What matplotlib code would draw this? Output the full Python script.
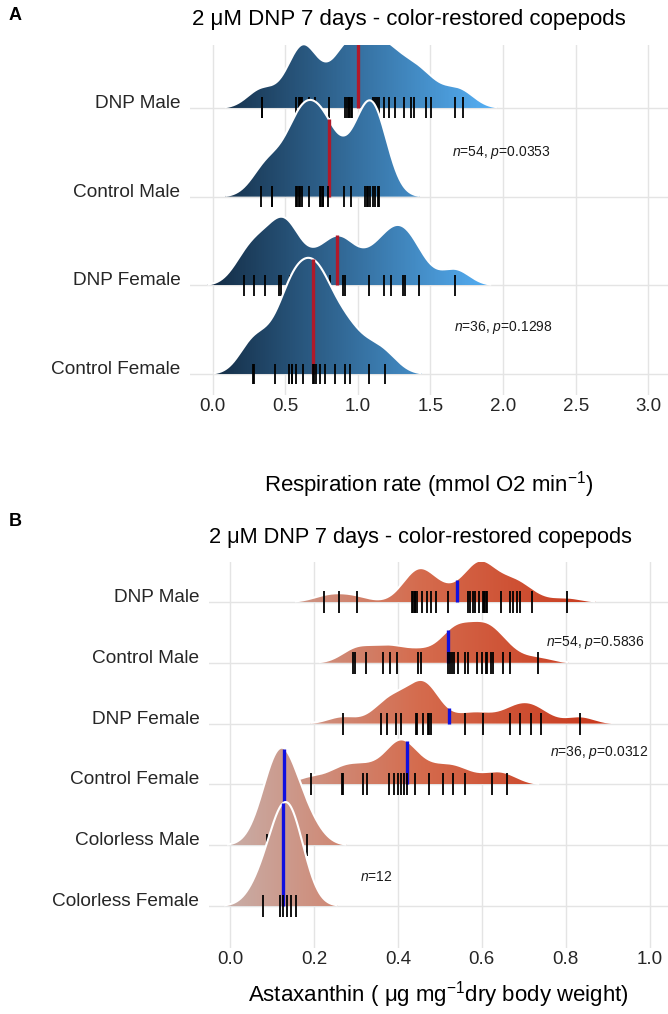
import numpy as np
import matplotlib
matplotlib.use("Agg")
import matplotlib.pyplot as plt
from matplotlib.patches import Polygon
from matplotlib.colors import LinearSegmentedColormap, Normalize

plt.rcParams['font.family'] = ['Liberation Sans', 'DejaVu Sans']
plt.rcParams['mathtext.fontset'] = 'custom'
plt.rcParams['mathtext.rm'] = 'Liberation Sans'
plt.rcParams['mathtext.it'] = 'Liberation Sans:italic'
plt.rcParams['mathtext.bf'] = 'Liberation Sans:bold'

# ---------------- Panel A: respiration rate ----------------
resp_labels = ["Control Female", "DNP Female", "Control Male", "DNP Male"]  # bottom -> top
resp_dnp_male = [0.339, 0.34, 0.576, 0.592, 0.603, 0.61, 0.619, 0.661, 0.702, 0.803,
                 0.914, 0.928, 0.94, 0.941, 0.955, 0.960, 1.102, 1.121, 1.134, 1.148,
                 1.181, 1.213, 1.259, 1.316, 1.369, 1.385, 1.466, 1.507, 1.668, 1.723]
resp_ctrl_male = [0.334, 0.408, 0.41, 0.576, 0.58, 0.597, 0.60, 0.615, 0.661, 0.741,
                  0.745, 0.757, 0.76, 0.794, 0.902, 0.955, 1.052, 1.06, 1.070, 1.086,
                  1.102, 1.116, 1.139, 1.148]
resp_dnp_female = [0.219, 0.286, 0.36, 0.457, 0.471, 0.53, 0.55, 0.72, 0.81, 0.90,
                   0.912, 1.074, 1.18, 1.23, 1.31, 1.325, 1.42, 1.67]
resp_ctrl_female = [0.282, 0.285, 0.431, 0.523, 0.546, 0.55, 0.574, 0.626, 0.695, 0.70,
                    0.712, 0.737, 0.776, 0.845, 0.909, 0.948, 1.075, 1.190]
resp_ticks = [0.0, 0.5, 1.0, 1.5, 2.0, 2.5, 3.0]
resp_notes = [(1.65, 2.50, "$n$=54, $p$=0.0353"), (1.66, 0.52, "$n$=36, $p$=0.1298")]

# ---------------- Panel B: astaxanthin ----------------
asta_labels = ["Colorless Female", "Colorless Male", "Control Female", "DNP Female",
               "Control Male", "DNP Male"]  # bottom -> top
asta_dnp_male = [0.224, 0.260, 0.302, 0.433, 0.437, 0.44, 0.441, 0.446, 0.457, 0.469,
                 0.478, 0.492, 0.520, 0.566, 0.572, 0.578, 0.584, 0.594, 0.602, 0.605,
                 0.606, 0.610, 0.613, 0.646, 0.667, 0.674, 0.683, 0.692, 0.720, 0.802]
asta_ctrl_male = [0.294, 0.298, 0.324, 0.365, 0.380, 0.397, 0.449, 0.454, 0.520, 0.524,
                  0.528, 0.534, 0.544, 0.560, 0.568, 0.588, 0.600, 0.610, 0.613, 0.621,
                  0.627, 0.650, 0.667, 0.735]
asta_dnp_female = [0.268, 0.359, 0.375, 0.395, 0.407, 0.443, 0.446, 0.461, 0.471, 0.475,
                   0.478, 0.560, 0.604, 0.667, 0.690, 0.717, 0.740, 0.834]
asta_ctrl_female = [0.192, 0.266, 0.268, 0.316, 0.327, 0.378, 0.390, 0.400, 0.408, 0.415,
                    0.422, 0.441, 0.475, 0.508, 0.532, 0.560, 0.624, 0.659]
asta_colorless_male = [0.088, 0.11, 0.12, 0.13, 0.142, 0.184]
asta_colorless_female = [0.079, 0.118, 0.126, 0.136, 0.146, 0.158]
asta_ticks = [0.0, 0.2, 0.4, 0.6, 0.8, 1.0]
asta_notes = [(0.754, 4.34, "$n$=54, $p$=0.5836"), (0.763, 2.52, "$n$=36, $p$=0.0312"),
              (0.31, 0.48, "$n$=12")]

title = "2 \u03bcM DNP 7 days - color-restored copepods"

W, H = 668, 1014
fig = plt.figure(figsize=(W / 100, H / 100), dpi=100)
fig.patch.set_facecolor("white")


def px_axes(left, top, right, bottom):
    return fig.add_axes([left / W, 1 - bottom / H, (right - left) / W, (bottom - top) / H])


def kde(values, grid, bw):
    v = np.asarray(values, dtype=float)[:, None]
    z = (grid[None, :] - v) / bw
    return np.exp(-0.5 * z ** 2).sum(0) / (len(values) * bw * np.sqrt(2 * np.pi))


def ridges(ax, series, bw, scale, cmap, mean_color, tick_half, rel_min=0.006):
    curves = []
    for vals in series:
        g = np.linspace(min(vals) - 3 * bw, max(vals) + 3 * bw, 800)
        curves.append((g, kde(vals, g, bw)))
    dmax = max(d.max() for _, d in curves)
    # drop the flat tails that sit on the baseline
    trimmed = []
    for g, d in curves:
        keep = np.where(d >= rel_min * dmax)[0]
        sl = slice(keep[0], keep[-1] + 1)
        trimmed.append((g[sl], d[sl]))
    norm = Normalize(min(g[0] for g, _ in trimmed), max(g[-1] for g, _ in trimmed))
    n = len(series)
    for i in range(n - 1, -1, -1):
        vals = series[i]
        g, d = trimmed[i]
        h = d / dmax * scale
        z = 2 + (n - 1 - i) * 5
        verts = np.column_stack([np.r_[g, g[-1], g[0]], np.r_[i + h, i, i]])
        poly = Polygon(verts, closed=True, facecolor="none", edgecolor="none", zorder=z)
        ax.add_patch(poly)
        grad = np.linspace(g[0], g[-1], 300)[None, :]
        im = ax.imshow(grad, extent=[g[0], g[-1], i, i + h.max()], origin="lower",
                       aspect="auto", cmap=cmap, norm=norm, zorder=z, interpolation="bilinear")
        im.set_clip_path(poly)
        ax.plot(g, i + h, color="white", lw=1.5, zorder=z + 1, solid_capstyle="butt")
        m = float(np.mean(vals))
        hm = float(np.interp(m, g, h))
        ax.plot([m, m], [i, i + hm], color=mean_color, lw=2.4, zorder=z + 2,
                solid_capstyle="butt")
        ax.vlines(vals, i - tick_half, i + tick_half, color="black", lw=1.3, zorder=z + 3)


def style(ax, labels, ticks, xlim, ylim):
    ax.set_xlim(*xlim)
    ax.set_ylim(*ylim)
    ax.set_xticks(ticks)
    ax.set_xticklabels([f"{t:.1f}" for t in ticks])
    ax.set_yticks(range(len(labels)))
    ax.set_yticklabels(labels)
    for lbl in ax.get_yticklabels():
        lbl.set_va("baseline")
    for s in ax.spines.values():
        s.set_visible(False)
    ax.grid(True, color="#e4e4e4", lw=1.0)
    ax.set_axisbelow(True)
    ax.tick_params(length=0, labelcolor="#262626")
    ax.tick_params(axis="x", labelsize=13.5, pad=2.5)
    ax.tick_params(axis="y", labelsize=13.7, pad=7)
    ax.set_facecolor("white")


blues = LinearSegmentedColormap.from_list("blues", ["#132B43", "#56B1F7"])
reds = LinearSegmentedColormap.from_list("reds", ["#C8AFA9", "#D56C4E", "#C8361A"])

# Panel A
axA = px_axes(190, 45, 668, 395)
ridges(axA, [resp_ctrl_female, resp_dnp_female, resp_ctrl_male, resp_dnp_male],
       bw=0.1, scale=1.31, cmap=blues, mean_color="#B0192A", tick_half=0.118)
style(axA, resp_labels, resp_ticks, (-0.155, 3.135), (-0.237, 3.71))
for x, y, s in resp_notes:
    axA.text(x, y, s, fontsize=10, va="center", ha="left", color="#1a1a1a", zorder=50)
axA.set_xlabel("Respiration rate (mmol O2 min$^{-1}$)", fontsize=16)
axA.xaxis.set_label_coords(0.5, (395 - 485) / 350)
axA.xaxis.label.set_va("center")

# Panel B
axB = px_axes(209, 562, 668, 948)
ridges(axB, [asta_colorless_female, asta_colorless_male, asta_ctrl_female, asta_dnp_female,
             asta_ctrl_male, asta_dnp_male],
       bw=0.035, scale=1.71, cmap=reds, mean_color="#1010E0", tick_half=0.18)
style(axB, asta_labels, asta_ticks, (-0.0503, 1.0439), (-0.691, 5.658))
for x, y, s in asta_notes:
    axB.text(x, y, s, fontsize=10, va="center", ha="left", color="#1a1a1a", zorder=50)
axB.set_xlabel("Astaxanthin ( \u03bcg mg$^{-1}$dry body weight)", fontsize=16)
axB.xaxis.set_label_coords(0.5, (948 - 995) / 386)
axB.xaxis.label.set_va("center")

fig.text(192 / W, 1 - 20 / H, title, fontsize=16, ha="left", va="center")
fig.text(209 / W, 1 - 537 / H, title, fontsize=15.7, ha="left", va="center")
fig.text(9 / W, 1 - 15 / H, "A", fontsize=13, fontweight="bold", ha="left", va="center")
fig.text(9 / W, 1 - 522 / H, "B", fontsize=13, fontweight="bold", ha="left", va="center")

fig.savefig("out.png", dpi=100, facecolor="white")
